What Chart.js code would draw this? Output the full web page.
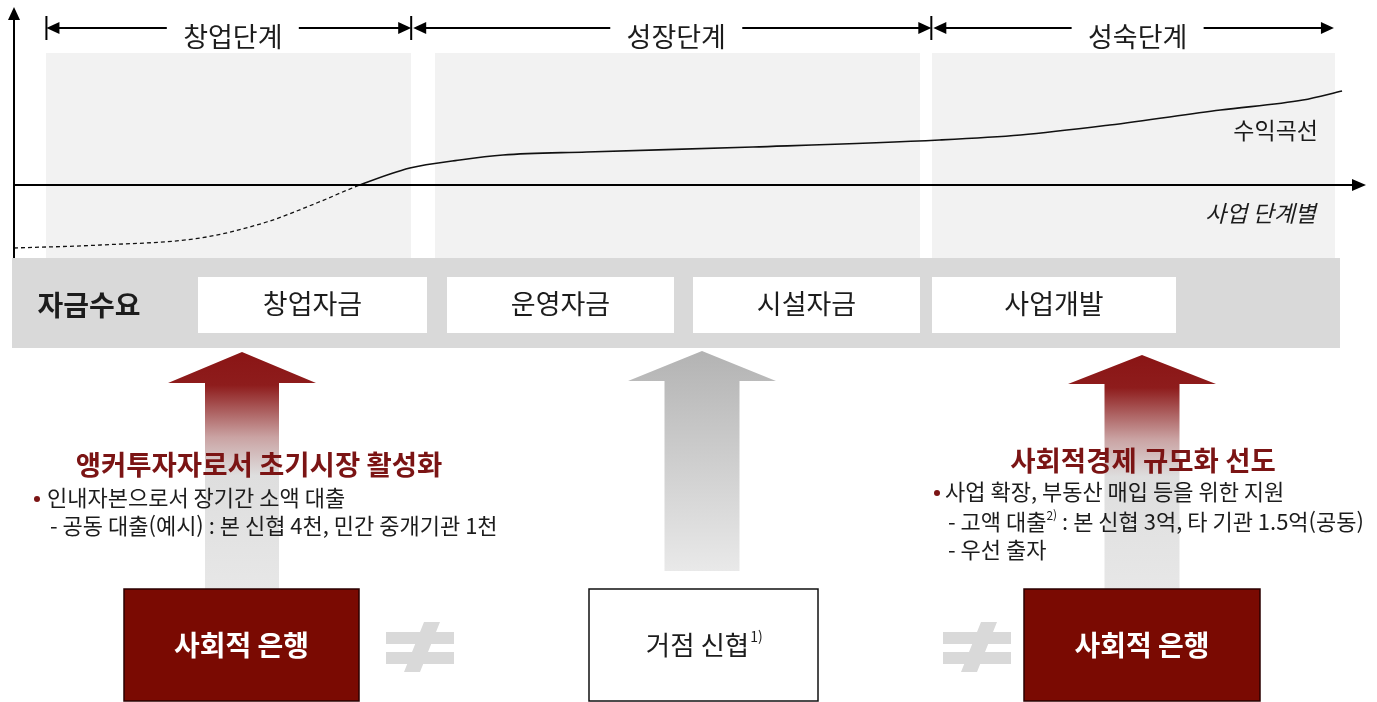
<!DOCTYPE html>
<html lang="ko">
<head>
  <meta charset="UTF-8">
  <title>사업 단계별 자금수요</title>
  <script src="https://cdn.jsdelivr.net/npm/chart.js@4.4.1/dist/chart.umd.min.js"></script>
  <style>
    body { margin: 0; background: #fff; overflow: hidden; }
  </style>
</head>
<body>
  <canvas id="c" width="1377" height="702"></canvas>

<script>
  // 수익곡선: x = 사업 단계 진행(0~100), y = 수익 (0 = 손익분기)
  let stageX = [0, 6.4, 13.8, 18.7, 22.4, 25.6, 29.3, 33.0, 36.2, 42.4, 54.7, 68.5, 74.5, 81.1, 89.3, 95.4, 98.3];
  let profit = [-6.3, -6.0, -5.3, -3.7, -1.8, 0, 1.7, 2.5, 3.0, 3.3, 3.8, 4.5, 5.0, 6.0, 7.5, 8.5, 9.4];

  let stages = ['창업단계', '성장단계', '성숙단계'];
  let stageBounds = [2.4, 29.4, 67.9, 97.7];
  let fundNeeds = ['창업자금', '운영자금', '시설자금', '사업개발'];

  let leftTitle = '앵커투자자로서 초기시장 활성화';
  let leftLines = ['인내자본으로서 장기간 소액 대출', '- 공동 대출(예시) : 본 신협 4천, 민간 중개기관 1천'];
  let rightTitle = '사회적경제 규모화 선도';
  let rightLines = ['사업 확장, 부동산 매입 등을 위한 지원', ['- 고액 대출', '2)', ' : 본 신협 3억, 타 기관 1.5억(공동)'], '- 우선 출자'];
  let banks = ['사회적 은행', '거점 신협', '사회적 은행'];

  const FONT = '"Noto Sans CJK KR", "Noto Sans", sans-serif';
  const RED = '#7a0a02';
  const TITLE_RED = '#7b1414';
  const TEXT = '#1c1c1c';

  function font(size, bold, italic) {
    return (italic ? 'italic ' : '') + (bold ? 'bold ' : '') + size + 'px ' + FONT;
  }

  function tri(ctx, tipX, y, dir, len, half) {
    ctx.beginPath();
    ctx.moveTo(tipX, y);
    ctx.lineTo(tipX - dir * len, y - half);
    ctx.lineTo(tipX - dir * len, y + half);
    ctx.closePath();
    ctx.fill();
  }

  function bigArrow(ctx, cx, tipY, baseY, headHalf, shaftHalf, bottomY, stops) {
    let g = ctx.createLinearGradient(0, tipY, 0, bottomY);
    stops.forEach(s => g.addColorStop(s[0], s[1]));
    ctx.fillStyle = g;
    ctx.beginPath();
    ctx.moveTo(cx, tipY);
    ctx.lineTo(cx + headHalf, baseY);
    ctx.lineTo(cx + shaftHalf, baseY);
    ctx.lineTo(cx + shaftHalf, bottomY);
    ctx.lineTo(cx - shaftHalf, bottomY);
    ctx.lineTo(cx - shaftHalf, baseY);
    ctx.lineTo(cx - headHalf, baseY);
    ctx.closePath();
    ctx.fill();
  }

  function notEqual(ctx, x) {
    ctx.fillStyle = '#d9d9d9';
    ctx.fillRect(x, 632, 68, 12);
    ctx.fillRect(x, 652, 68, 12);
    ctx.beginPath();
    ctx.moveTo(x + 38, 622);
    ctx.lineTo(x + 54, 622);
    ctx.lineTo(x + 34, 672);
    ctx.lineTo(x + 18, 672);
    ctx.closePath();
    ctx.fill();
  }

  // 배경 패널 (차트 뒤)
  const backdrop = {
    id: 'backdrop',
    beforeDatasetsDraw(chart) {
      let ctx = chart.ctx;
      ctx.save();
      ctx.fillStyle = '#f2f2f2';
      [[46, 411], [435, 920], [932, 1335]].forEach(p => ctx.fillRect(p[0], 53, p[1] - p[0], 205));
      ctx.restore();
    }
  };

  // 축, 단계 표시, 하단 도식
  const diagram = {
    id: 'diagram',
    afterDatasetsDraw(chart) {
      let ctx = chart.ctx;
      let a = chart.chartArea;
      let xs = chart.scales.x, ys = chart.scales.y;
      let y0 = ys.getPixelForValue(0);
      ctx.save();

      // 축
      ctx.strokeStyle = '#000';
      ctx.fillStyle = '#000';
      ctx.lineWidth = 2;
      ctx.beginPath();
      ctx.moveTo(a.left, 258); ctx.lineTo(a.left, 16);
      ctx.moveTo(a.left, y0); ctx.lineTo(a.right - 8, y0);
      ctx.stroke();
      ctx.beginPath();
      ctx.moveTo(a.left, 7); ctx.lineTo(a.left - 6, 20); ctx.lineTo(a.left + 6, 20); ctx.closePath(); ctx.fill();
      tri(ctx, a.right + 1, y0, 1, 14, 6);

      ctx.fillStyle = TEXT;
      ctx.textAlign = 'right';
      ctx.textBaseline = 'middle';
      ctx.font = font(23);
      ctx.fillText('수익곡선', 1318, 130);
      ctx.font = font(23, false, true);
      ctx.fillText('사업 단계별', 1316, 213);

      // 단계 머리표
      ctx.lineWidth = 2;
      for (let i = 0; i < stages.length; i++) {
        let x0 = xs.getPixelForValue(stageBounds[i]) + (i ? 2 : 0);
        let x1 = xs.getPixelForValue(stageBounds[i + 1]);
        let mid = (x0 + x1) / 2 + 4;
        ctx.strokeStyle = '#000';
        ctx.fillStyle = '#000';
        ctx.beginPath();
        ctx.moveTo(x0 + 4, 28); ctx.lineTo(x1 - 4, 28);
        ctx.stroke();
        tri(ctx, x0, 28, -1, 13, 6);
        tri(ctx, x1, 28, 1, 13, 6);
        if (i < 2) {
          ctx.beginPath();
          ctx.moveTo(x1, 16); ctx.lineTo(x1, 40);
          if (i === 0) { ctx.moveTo(x0, 16); ctx.lineTo(x0, 40); }
          ctx.stroke();
        }
        ctx.fillStyle = '#fff';
        ctx.fillRect(mid - 66, 16, 132, 37);
        ctx.fillStyle = TEXT;
        ctx.textAlign = 'center';
        ctx.font = font(27);
        ctx.fillText(stages[i], mid, 37);
      }

      // 자금수요 띠
      ctx.fillStyle = '#d9d9d9';
      ctx.fillRect(12, 258, 1328, 90);
      ctx.fillStyle = TEXT;
      ctx.font = font(28, true);
      ctx.fillText('자금수요', 89, 305);
      [[198, 427], [447, 674], [693, 920], [932, 1176]].forEach((b, i) => {
        ctx.fillStyle = '#fff';
        ctx.fillRect(b[0], 277, b[1] - b[0], 56);
        ctx.fillStyle = TEXT;
        ctx.font = font(27);
        ctx.fillText(fundNeeds[i], (b[0] + b[1]) / 2, 304);
      });

      // 화살표
      let redStops = [[0, '#8a1515'], [0.14, '#8e1c1c'], [0.36, '#caa3a3'], [0.52, '#dedede'], [1, '#e7e7e7']];
      bigArrow(ctx, 242, 352, 383, 74, 37, 589, redStops);
      bigArrow(ctx, 702, 351, 381, 74, 37.5, 571, [[0, '#b3b3b3'], [1, '#e9e9e9']]);
      bigArrow(ctx, 1142, 355, 384, 74, 37.5, 589, redStops);

      // 설명 문구
      ctx.textAlign = 'center';
      ctx.fillStyle = TITLE_RED;
      ctx.font = font(27.5, true);
      ctx.fillText(leftTitle, 259, 465);
      ctx.fillText(rightTitle, 1143, 461);

      ctx.textAlign = 'left';
      ctx.font = font(22);
      ctx.fillStyle = TITLE_RED;
      ctx.beginPath(); ctx.arc(37, 499, 3, 0, Math.PI * 2); ctx.fill();
      ctx.beginPath(); ctx.arc(937, 493, 3, 0, Math.PI * 2); ctx.fill();
      ctx.fillStyle = TEXT;
      ctx.fillText(leftLines[0], 47, 498);
      ctx.fillText(leftLines[1], 50, 526);
      ctx.fillText(rightLines[0], 945, 492);
      let parts = rightLines[1];
      let x = 948;
      ctx.fillText(parts[0], x, 522);
      x += ctx.measureText(parts[0]).width;
      ctx.font = font(12);
      ctx.fillText(parts[1], x, 515);
      x += ctx.measureText(parts[1]).width;
      ctx.font = font(22);
      ctx.fillText(parts[2], x, 522);
      ctx.fillText(rightLines[2], 948, 550);

      // 기관 박스
      ctx.lineWidth = 1.5;
      [[124, 359, RED], [589, 818, '#fff'], [1024, 1260, RED]].forEach((b, i) => {
        ctx.fillStyle = b[2];
        ctx.fillRect(b[0], 589, b[1] - b[0], 112);
        ctx.strokeStyle = i === 1 ? '#111' : '#2a0000';
        ctx.strokeRect(b[0], 589, b[1] - b[0], 112);
        let cx = (b[0] + b[1]) / 2;
        ctx.textAlign = 'center';
        if (i === 1) {
          ctx.fillStyle = TEXT;
          ctx.font = font(26.5);
          let w = ctx.measureText(banks[i]).width;
          ctx.fillText(banks[i], cx - 6, 645);
          ctx.font = font(14);
          ctx.textAlign = 'left';
          ctx.fillText('1)', cx - 6 + w / 2 + 1, 637);
        } else {
          ctx.fillStyle = '#fff';
          ctx.font = font(28, true);
          ctx.fillText(banks[i], cx, 645);
        }
      });

      notEqual(ctx, 386);
      notEqual(ctx, 943);
      ctx.restore();
    }
  };

  new Chart(document.getElementById('c').getContext('2d'), {
    type: 'line',
    data: {
      datasets: [{
        label: '수익곡선',
        data: stageX.map((x, i) => ({ x: x, y: profit[i] })),
        borderColor: '#111',
        borderWidth: 1.6,
        pointRadius: 0,
        cubicInterpolationMode: 'monotone',
        segment: {
          borderDash: ctx => ctx.p1.parsed.y <= 0 ? [4, 3] : [],
          borderWidth: ctx => ctx.p1.parsed.y <= 0 ? 1.3 : 1.6
        }
      }]
    },
    options: {
      responsive: false,
      animation: false,
      layout: { padding: { left: 14, right: 12, top: 10, bottom: 446 } },
      scales: {
        x: { type: 'linear', min: 0, max: 100, display: false },
        y: { min: -7.1, max: 17.5, display: false }
      },
      plugins: {
        legend: { display: false },
        tooltip: { enabled: false }
      }
    },
    plugins: [backdrop, diagram]
  });
</script>
</body>
</html>
